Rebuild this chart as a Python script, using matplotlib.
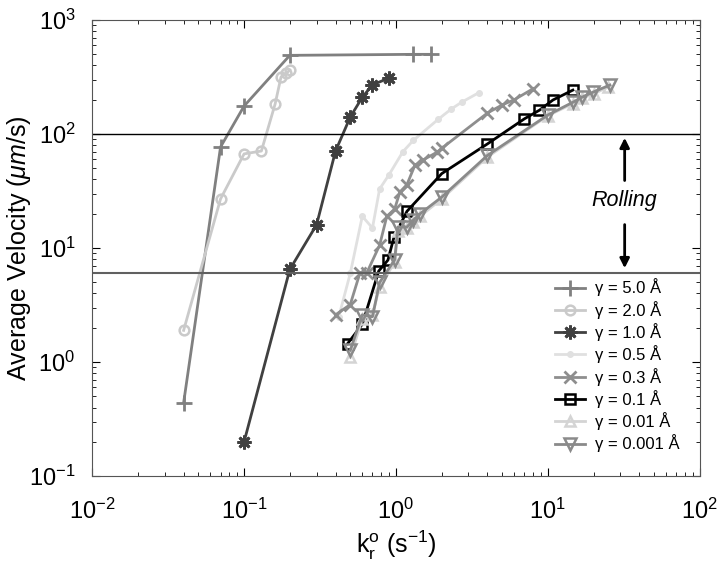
import numpy as np
import matplotlib
matplotlib.use("Agg")
import matplotlib.pyplot as plt

plt.rcParams['font.family'] = ['Liberation Sans', 'DejaVu Sans']
plt.rcParams['mathtext.fontset'] = 'custom'
plt.rcParams['mathtext.rm'] = 'Liberation Sans'
plt.rcParams['mathtext.it'] = 'Liberation Sans:italic'
plt.rcParams['mathtext.bf'] = 'Liberation Sans:bold'

# data
k_50 = [0.04, 0.07, 0.1, 0.2, 1.3, 1.7]
v_50 = [0.44, 77, 176, 490, 500, 500]

k_20 = [0.04, 0.07, 0.1, 0.13, 0.16, 0.175, 0.19, 0.2]
v_20 = [1.9, 27, 67, 71, 183, 316, 340, 365]

k_10 = [0.1, 0.2, 0.3, 0.4, 0.5, 0.6, 0.7, 0.9]
v_10 = [0.2, 6.5, 16, 71, 141, 210, 270, 310]

k_05 = [0.42, 0.5, 0.6, 0.7, 0.78, 0.9, 1.11, 1.3, 1.9, 2.3, 2.7, 3.5]
v_05 = [2.5, 6.0, 19, 15, 33, 44, 70, 88, 135, 165, 190, 230]

k_03 = [0.4, 0.5, 0.58, 0.64, 0.78, 0.87, 0.98, 1.06, 1.18, 1.33, 1.5, 1.85, 2.0, 4.0, 5.0, 6.0, 8.0]
v_03 = [2.6, 3.2, 6.1, 6.0, 10.6, 19, 22, 31, 36, 53, 59, 69, 75, 153, 180, 200, 250]

k_01 = [0.48, 0.6, 0.77, 0.885, 0.97, 1.18, 2.0, 4.0, 7.0, 8.8, 10.8, 14.6]
v_01 = [1.45, 2.15, 6.3, 7.85, 12.5, 21, 45, 82, 136, 162, 199, 243]

k_001 = [0.5, 0.6, 0.7, 0.78, 0.98, 1.03, 1.18, 1.3, 1.44, 2.0, 4.0, 10.0, 14.6, 16.7, 20, 25]
v_001 = [1.1, 2.4, 2.6, 4.6, 7.5, 14, 15, 17, 19, 27, 63, 145, 185, 205, 225, 260]

k_0001 = [0.5, 0.6, 0.7, 0.78, 0.98, 1.03, 1.18, 1.3, 1.44, 2.0, 4.0, 10.0, 14.6, 16.7, 19.8, 25.6]
v_0001 = [1.27, 2.6, 2.5, 5.0, 7.9, 15.3, 15.3, 17.6, 20, 28, 65, 147, 190, 210, 233, 269]

labels = ['γ = 5.0 Å', 'γ = 2.0 Å', 'γ = 1.0 Å', 'γ = 0.5 Å',
          'γ = 0.3 Å', 'γ = 0.1 Å', 'γ = 0.01 Å', 'γ = 0.001 Å']

fig = plt.figure(figsize=(7.2, 5.8), dpi=100)
ax = fig.add_axes([0.128, 0.179, 0.844, 0.7865])

lw = 2.0
ax.plot(k_50, v_50, color='#808080', lw=lw, marker='+', ms=11, mew=2, label=labels[0])
ax.plot(k_20, v_20, color='#cacaca', lw=lw, marker='o', ms=7, mfc='none', mew=1.8, label=labels[1])
ax.plot(k_10, v_10, color='#404040', lw=lw, marker=(8, 2, 0), ms=10, mew=2, label=labels[2])
ax.plot(k_05, v_05, color='#e0e0e0', lw=lw, marker='o', ms=4, label=labels[3])
ax.plot(k_03, v_03, color='#8e8e8e', lw=lw, marker='x', ms=8, mew=2, label=labels[4])
ax.plot(k_01, v_01, color='black', lw=lw, marker='s', ms=6.5, mfc='none', mew=1.8, label=labels[5])
ax.plot(k_001, v_001, color='#d4d4d4', lw=lw, marker='^', ms=7, mfc='none', mew=1.8, label=labels[6])
ax.plot(k_0001, v_0001, color='#8a8a8a', lw=lw, marker='v', ms=8, mfc='none', mew=1.8, label=labels[7])

ax.axhline(100, color='black', lw=1.0)
ax.axhline(6, color='#606060', lw=1.5)

ax.set_xscale('log')
ax.set_yscale('log')
ax.set_xlim(1e-2, 1e2)
ax.set_ylim(1e-1, 1e3)

# rolling region arrows
ax.annotate('', xy=(32, 98), xytext=(32, 37),
            arrowprops=dict(arrowstyle='-|>', color='black', lw=2, mutation_scale=14))
ax.annotate('', xy=(32, 6.3), xytext=(32, 17),
            arrowprops=dict(arrowstyle='-|>', color='black', lw=2, mutation_scale=14))
ax.text(32, 26, 'Rolling', ha='center', va='center', fontsize=15.5, style='italic')

ax.tick_params(which='both', direction='in', top=True, right=True, labelsize=17)
ax.tick_params(axis='x', which='major', pad=16)
ax.tick_params(axis='y', which='major', pad=12)
ax.tick_params(which='major', length=6)
ax.tick_params(which='minor', length=3)
for s in ax.spines.values():
    s.set_color('#555555')

ax.set_xlabel(r'$\mathregular{k_r^o}$ (s$^{-1}$)', fontsize=18)
ax.set_ylabel(r'Average Velocity ($\mathit{\mu m}$/s)', fontsize=18)
ax.yaxis.set_label_coords(-0.097, 0.5)
ax.xaxis.set_label_coords(0.5, -0.116)

ax.legend(loc='lower right', frameon=False, fontsize=12, handlelength=1.8,
          handletextpad=0.6, labelspacing=0.26, borderaxespad=0.0, borderpad=0.0,
          bbox_to_anchor=(0.966, 0.052))

fig.savefig('out.png', dpi=100)
